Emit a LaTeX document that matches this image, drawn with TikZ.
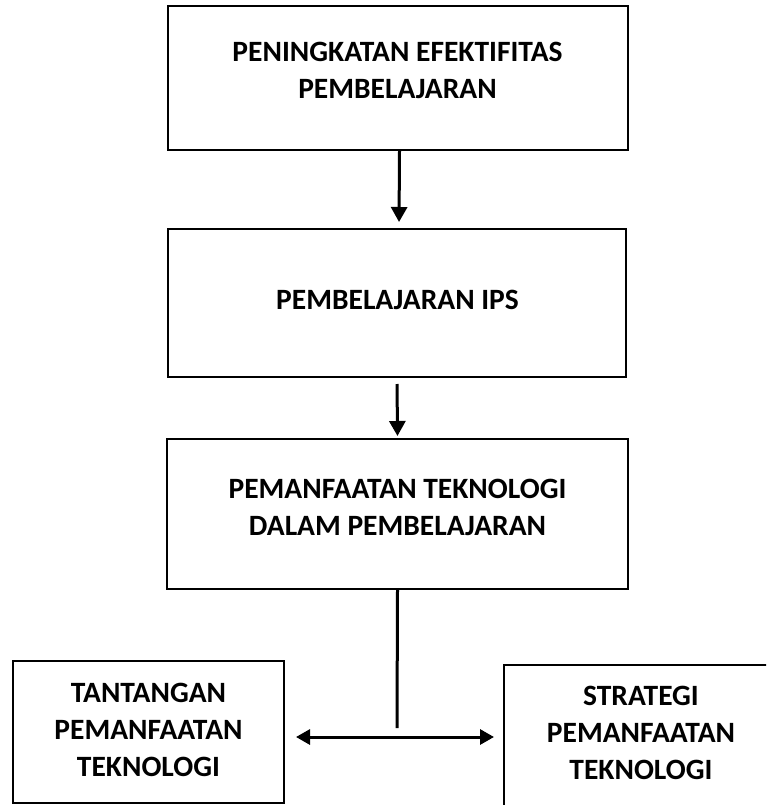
\documentclass[tikz,border=0pt]{standalone}
\usepackage{fontspec}
\setmainfont{Carlito}
\usetikzlibrary{arrows.meta}
\tikzset{
  box/.style={draw=black, line width=2pt, rectangle, inner sep=0pt},
  txt/.style={align=center, inner sep=0pt, font=\fontsize{29.5}{37}\selectfont\bfseries},
  arr/.style={line width=3pt, -{Triangle[length=15pt,width=16pt]}},
  dbl/.style={line width=3pt, {Triangle[length=14pt,width=15pt]}-{Triangle[length=14pt,width=15pt]}},
  plain/.style={line width=3pt}
}
\begin{document}
\begin{tikzpicture}[x=1pt,y=-1pt]
\useasboundingbox (0,0) rectangle (766,805);
\clip (0,0) rectangle (766,805);
\fill[white] (0,0) rectangle (766,805);
% boxes
\node[box, minimum width=460pt, minimum height=144pt] (b1) at (397.5,78) {};
\node[txt] (t1) at (397.5,70) {PENINGKATAN EFEKTIFITAS\\PEMBELAJARAN};
\node[box, minimum width=458pt, minimum height=148pt] (b2) at (397,303) {};
\node[txt] (t2) at (397.5,300) {PEMBELAJARAN IPS};
\node[box, minimum width=461pt, minimum height=150pt] (b3) at (397.5,514) {};
\node[txt] (t3) at (397.5,507) {PEMANFAATAN TEKNOLOGI\\DALAM PEMBELAJARAN};
\node[box, minimum width=271pt, minimum height=142pt] (b4) at (148.5,732) {};
\node[txt] (t4) at (148.5,730) {TANTANGAN\\PEMANFAATAN\\TEKNOLOGI};
\node[box, minimum width=274pt, minimum height=160pt] (b5) at (641,745) {};
\node[txt] (t5) at (641,733) {STRATEGI\\PEMANFAATAN\\TEKNOLOGI};
% connectors
\draw[arr, shorten >=6pt] ([xshift=2pt]b1.south) -- ([xshift=2pt]b2.north);
\draw[arr, shorten <=6pt, shorten >=2pt] (b2.south) -- (b3.north);
\coordinate (jn) at (397,737);
\coordinate (jt) at (397,728);
\draw[plain] (b3.south) -- (jt);
\draw[dbl, shorten <=11pt, shorten >=9pt] (b4.east |- jn) -- (b5.west |- jn);
\end{tikzpicture}
\end{document}
